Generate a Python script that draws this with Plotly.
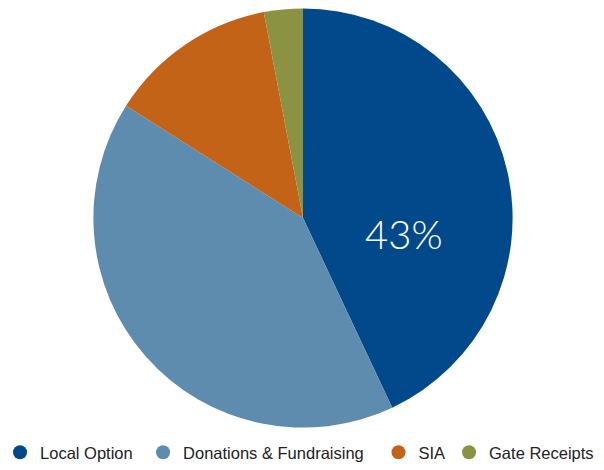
import plotly.graph_objects as go

labels = ["Local Option", "Donations & Fundraising", "SIA", "Gate Receipts"]
values = [43, 41, 13, 3]
colors = ["#02498C", "#5E8CAF", "#C26317", "#8B9343"]
legend_marker_x = [16, 160, 397, 468]

H = 466  # plot-area height once the legend's 4 px overhang is reserved

fig = go.Figure()
fig.add_trace(go.Pie(
    labels=labels, values=values, sort=False, direction="clockwise", rotation=0,
    marker=dict(colors=colors, line=dict(width=0)),
    textinfo="none",
    domain=dict(x=[90 / 604, 512 / 604], y=[(H - 429) / H, (H - 7) / H]),
    showlegend=False, hoverinfo="label+percent",
))
legend_layout = {}
for i, (lab, col, lx) in enumerate(zip(labels, colors, legend_marker_x)):
    key = "legend" if i == 0 else f"legend{i + 1}"
    fig.add_trace(go.Scatter(
        x=[None], y=[None], mode="markers", name=lab, legend=key,
        marker=dict(symbol="circle", size=14, color=col),
    ))
    legend_layout[key] = dict(
        orientation="h", x=(lx - 20) / 604, xanchor="left",
        y=0, yanchor="bottom",
        font=dict(family="Liberation Sans, Arial", size=16.5, color="#222"),
        itemsizing="trace", bgcolor="rgba(0,0,0,0)",
    )

fig.add_annotation(
    x=403 / 604, y=(H - 234) / H, xref="paper", yref="paper",
    xanchor="center", yanchor="middle",
    text=f"{values[0]}%", showarrow=False,
    font=dict(color="white", size=40, family="Lato", weight=300),
)

fig.update_layout(
    width=604, height=470,
    margin=dict(l=0, r=0, t=0, b=470 - H),
    paper_bgcolor="white", plot_bgcolor="white",
    xaxis=dict(visible=False), yaxis=dict(visible=False),
    **legend_layout,
)
for key in legend_layout:
    fig.layout[key].y = -(470 - H) / H * 0.999
fig.write_html("out.html", config={"displayModeBar": False},
               post_script="document.body.style.margin='0';")
